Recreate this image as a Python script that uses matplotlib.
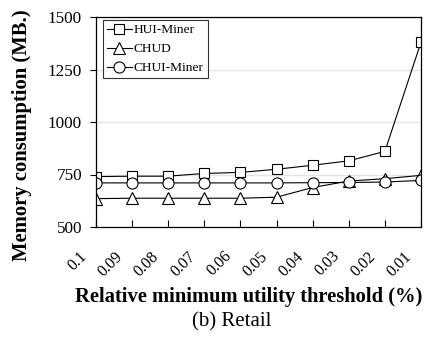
import matplotlib
matplotlib.use("Agg")
import matplotlib.pyplot as plt
from matplotlib.transforms import ScaledTranslation, blended_transform_factory

plt.rcParams['font.family'] = ['Liberation Serif', 'DejaVu Serif']

thresholds = ["0.1", "0.09", "0.08", "0.07", "0.06", "0.05", "0.04", "0.03", "0.02", "0.01"]
hui_miner = [740, 742, 742, 755, 760, 775, 794, 815, 860, 1380]
chud = [635, 637, 637, 637, 637, 642, 688, 719, 730, 746]
chui_miner = [710, 710, 710, 710, 710, 710, 711, 712, 714, 722]
y_ticks = [500, 750, 1000, 1250, 1500]

fig = plt.figure(figsize=(4.33, 3.41), dpi=100)
ax = fig.add_axes([96 / 433, 1 - 227 / 341, 325 / 433, 210 / 341])

x = list(range(len(thresholds)))
common = dict(color='black', linewidth=0.8, markerfacecolor='white',
              markeredgecolor='black', markeredgewidth=0.8)
ax.plot(x, hui_miner, marker='s', markersize=7.5, label='HUI-Miner', **common)
ax.plot(x, chud, marker='^', markersize=8, label='CHUD', **common)
ax.plot(x, chui_miner, marker='o', markersize=8, label='CHUI-Miner', **common)

ax.set_xlim(0, len(thresholds) - 1)
ax.set_ylim(500, 1500)
ax.set_yticks(y_ticks)
ax.set_xticks(x)
ax.set_xticklabels([])
ax.tick_params(axis='x', direction='in', length=5, width=0.8)
ax.tick_params(axis='y', direction='out', length=4, width=0.8, pad=6, labelsize=12.3)

# slanted threshold labels, set slightly left of and below each tick
lab_tr = blended_transform_factory(ax.transData, ax.transAxes) + \
    ScaledTranslation(-0.115, -0.27, fig.dpi_scale_trans)
for xi, t in zip(x, thresholds):
    ax.text(xi, 0, t, transform=lab_tr, rotation=45, ha='right', va='center',
            rotation_mode='anchor', fontsize=11.5, clip_on=False)

ax.grid(axis='y', color='#e4e4e4', linewidth=1.0)
ax.set_axisbelow(True)
for sp in ax.spines.values():
    sp.set_linewidth(0.9)
    sp.set_color('black')

ax.set_ylabel('Memory consumption (MB.)', fontsize=14.9, fontweight='bold')
ax.yaxis.set_label_coords((22 - 96) / 325, (227 - 135) / 210)
ax.set_xlabel('Relative minimum utility threshold (%)', fontsize=14.8,
              fontweight='bold')
ax.xaxis.set_label_coords((249 - 96) / 325, (227 - 297) / 210)
ax.xaxis.label.set_va('center')
ax.yaxis.label.set_va('center')
fig.text(232 / 433, 1 - 322 / 341, '(b) Retail', fontsize=15, ha='center', va='center')

leg = ax.legend(loc='upper left', bbox_to_anchor=(0.02, 0.986), borderaxespad=0,
                fontsize=9.6, frameon=True, fancybox=False, edgecolor='black',
                handlelength=1.9, handletextpad=0.15, labelspacing=0.5,
                borderpad=0.3)
leg.get_frame().set_linewidth(0.8)

fig.savefig('out.png', dpi=100)
